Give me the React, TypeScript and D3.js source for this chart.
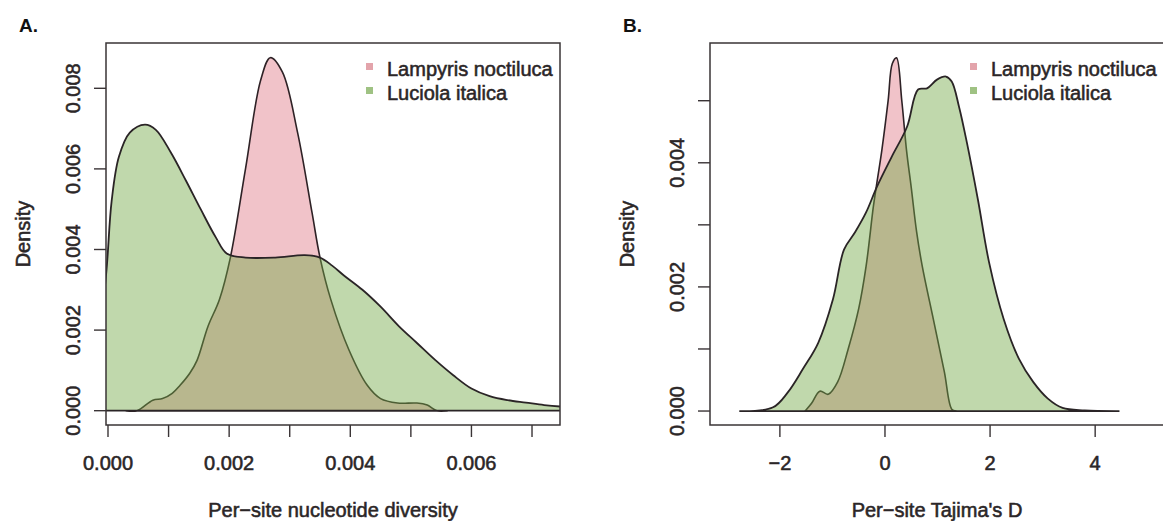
import React from "react";
import * as d3 from "d3";

// Panel A: per-site nucleotide diversity densities
const lampA_x = [0.0003, 0.00048, 0.00074, 0.0009, 0.00106, 0.00119, 0.00135, 0.00147, 0.00165, 0.00184, 0.00202, 0.00227, 0.00252, 0.00268, 0.00288, 0.00313, 0.00337, 0.0035, 0.00368, 0.00398, 0.00428, 0.0045, 0.00478, 0.0051, 0.00527, 0.00543, 0.0056];
const lampA_y = [0, 0, 0.00026, 0.0003, 0.00043, 0.00063, 0.00093, 0.00125, 0.00209, 0.00276, 0.0038, 0.006, 0.0082, 0.00876, 0.0084, 0.0069, 0.0049, 0.0038, 0.00275, 0.0015, 0.00063, 0.0003, 0.00019, 0.00019, 0.00014, 0, 0];
const lucA_x = [-0.0002, -0.00003, 0.00006, 0.00018, 0.00036, 0.00061, 0.00079, 0.00104, 0.00129, 0.00153, 0.00178, 0.00196, 0.00227, 0.00276, 0.00325, 0.0035, 0.0037, 0.0039, 0.0042, 0.0045, 0.0048, 0.0051, 0.0054, 0.0057, 0.006, 0.0063, 0.0066, 0.0069, 0.0072, 0.0075, 0.0078];
const lucA_y = [0.0012, 0.0034, 0.0052, 0.0063, 0.0069, 0.0071, 0.00697, 0.0064, 0.0057, 0.005, 0.0043, 0.0039, 0.0038, 0.0038, 0.00386, 0.0038, 0.0036, 0.00335, 0.003, 0.00258, 0.0021, 0.00168, 0.00126, 0.00088, 0.00055, 0.00036, 0.00026, 0.0002, 0.00014, 0.0001, 0.00008];

// Panel B: per-site Tajima's D densities
const lampB_x = [-1.52, -1.4, -1.24, -1.08, -0.9, -0.7, -0.5, -0.36, -0.22, -0.15, -0.06, 0.06, 0.14, 0.22, 0.32, 0.41, 0.5, 0.6, 0.71, 0.92, 1.13, 1.27, 1.35];
const lampB_y = [0, 0.00012, 0.00032, 0.00027, 0.00047, 0.001, 0.00165, 0.00233, 0.0033, 0.0037, 0.0042, 0.005, 0.0056, 0.00569, 0.005, 0.0042, 0.0036, 0.0029, 0.00233, 0.00148, 0.00063, 0.00003, 0];
const lucB_x = [-2.76, -2.13, -1.85, -1.56, -1.27, -0.99, -0.78, -0.57, -0.36, -0.15, 0.13, 0.42, 0.63, 0.8, 0.99, 1.16, 1.27, 1.41, 1.56, 1.77, 1.98, 2.26, 2.55, 2.82, 3.1, 3.38, 3.8, 4.45];
const lucB_y = [0, 0.00006, 0.0003, 0.00068, 0.0011, 0.0018, 0.0026, 0.00288, 0.0032, 0.00362, 0.0041, 0.00458, 0.00518, 0.0052, 0.00534, 0.00539, 0.00531, 0.0049, 0.00432, 0.0034, 0.0024, 0.00148, 0.00084, 0.00047, 0.0002, 0.00005, 0.00001, 0];

const seriesNames = ["Lampyris noctiluca", "Luciola italica"];
const pinkFill = "rgba(223,122,135,0.45)";
const greenFill = "rgba(115,168,70,0.45)";
const legendColors = ["#e3a4ab", "#9fc283"];

const axA_xTicks = [0, 0.001, 0.002, 0.003, 0.004, 0.005, 0.006, 0.007];
const axA_xLabels = [0, 0.002, 0.004, 0.006];
const axA_yTicks = [0, 0.002, 0.004, 0.006, 0.008];
const axB_xTicks = [-2, 0, 2, 4];
const axB_yTicks = [0, 0.001, 0.002, 0.003, 0.004, 0.005];
const axB_yLabels = [0, 0.002, 0.004];

const font = "'Liberation Sans', Arial, Helvetica, sans-serif";
const ink = "#2b2627";
// scanned print looks heavier than a plain regular weight
const textStyle = { fontFamily: font, fontSize: 20, fill: ink, stroke: ink, strokeWidth: 0.55 };

type PanelProps = {
  id: string;
  tag: string;
  left: number;
  right: number;
  xDomain: [number, number];
  yDomain: [number, number];
  xTicks: number[];
  xLabels: number[];
  xFmt: (v: number) => string;
  yTicks: number[];
  yLabels: number[];
  xTitle: string;
  lamp: [number[], number[]];
  luc: [number[], number[]];
};

const top = 43;
const bottom = 425;

function Panel(p: PanelProps) {
  const x = d3.scaleLinear().domain(p.xDomain).range([p.left, p.right]);
  const y = d3.scaleLinear().domain(p.yDomain).range([bottom, top]);
  const area = d3
    .area<[number, number]>()
    .x((d) => x(d[0]))
    .y0(y(0))
    .y1((d) => y(d[1]))
    .curve(d3.curveCatmullRom.alpha(0.5));
  const pts = (s: [number[], number[]]) => s[0].map((v, i) => [v, s[1][i]] as [number, number]);
  const cx = (p.left + p.right) / 2;
  const cy = (top + bottom) / 2;
  const legX = p.right - 173;
  return (
    <g>
      <defs>
        <clipPath id={`clip-${p.id}`}>
          <rect x={p.left} y={top} width={p.right - p.left} height={bottom - top} />
        </clipPath>
      </defs>
      <text x={p.left - 87} y={32} fontFamily={font} fontWeight="bold" fontSize={19} fill="#111">
        {p.tag}
      </text>
      <g clipPath={`url(#clip-${p.id})`}>
        <path d={area(pts(p.lamp)) || ""} fill={pinkFill} stroke="#2e2226" strokeWidth={1.6} strokeLinejoin="round" />
        <path d={area(pts(p.luc)) || ""} fill={greenFill} stroke="#2a2426" strokeWidth={1.8} strokeLinejoin="round" />
      </g>
      <rect x={p.left} y={top} width={p.right - p.left} height={bottom - top} fill="none" stroke="#3a3436" strokeWidth={1.5} />
      {/* x axis */}
      {p.xTicks.map((t) => (
        <line key={t} x1={x(t)} x2={x(t)} y1={bottom} y2={bottom + 12} stroke="#3a3436" strokeWidth={1.4} />
      ))}
      {p.xLabels.map((t) => (
        <text key={t} x={x(t)} y={469.5} textAnchor="middle" style={textStyle}>
          {p.xFmt(t)}
        </text>
      ))}
      <text x={cx} y={517} textAnchor="middle" style={textStyle}>
        {p.xTitle}
      </text>
      {/* y axis */}
      {p.yTicks.map((t) => (
        <line key={t} x1={p.left - 12} x2={p.left} y1={y(t)} y2={y(t)} stroke="#3a3436" strokeWidth={1.4} />
      ))}
      {p.yLabels.map((t) => (
        <text key={t} transform={`translate(${p.left - 26},${y(t)}) rotate(-90)`} textAnchor="middle" style={textStyle}>
          {d3.format(".3f")(t)}
        </text>
      ))}
      <text transform={`translate(${p.left - 76},${cy}) rotate(-90)`} textAnchor="middle" style={textStyle}>
        Density
      </text>
      {/* legend */}
      {seriesNames.map((n, i) => (
        <g key={n}>
          <rect x={legX - 21} y={63 + i * 24} width={7} height={7} fill={legendColors[i]} />
          <text x={legX} y={76 + i * 24} style={textStyle}>
            {n}
          </text>
        </g>
      ))}
    </g>
  );
}

export default function App() {
  return (
    <svg width={1163} height={521} style={{ position: "absolute", left: 0, top: 0, background: "#fff" }}>
      <Panel
        id="a"
        tag="A."
        left={106}
        right={560}
        xDomain={[-0.000033, 0.007462]}
        yDomain={[-0.000355, 0.009124]}
        xTicks={axA_xTicks}
        xLabels={axA_xLabels}
        xFmt={d3.format(".3f")}
        yTicks={axA_yTicks}
        yLabels={axA_yTicks}
        xTitle="Per−site nucleotide diversity"
        lamp={[lampA_x, lampA_y]}
        luc={[lucA_x, lucA_y]}
      />
      <Panel
        id="b"
        tag="B."
        left={710}
        right={1164}
        xDomain={[-3.33, 5.31]}
        yDomain={[-0.000225, 0.00593]}
        xTicks={axB_xTicks}
        xLabels={axB_xTicks}
        xFmt={(v) => (v < 0 ? "−" + Math.abs(v) : String(v))}
        yTicks={axB_yTicks}
        yLabels={axB_yLabels}
        xTitle="Per−site Tajima's D"
        lamp={[lampB_x, lampB_y]}
        luc={[lucB_x, lucB_y]}
      />
    </svg>
  );
}
